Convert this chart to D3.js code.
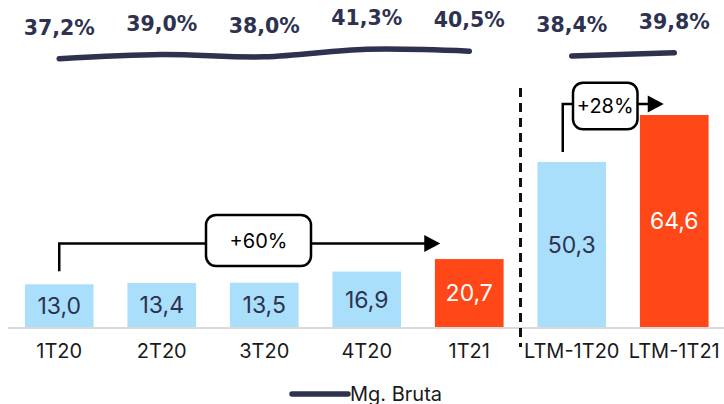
<!DOCTYPE html>
<html>
<head>
    <meta charset="utf-8" />
    <title>Lucro Bruto</title>
    <script src="https://cdn.jsdelivr.net/npm/d3@7/dist/d3.min.js"></script>
    <style>
        body { margin: 0; background: #fff; }
        svg { display: block; }
    </style>
</head>
<body>
    <div id="chart"></div>
    <script>
        var categories = ["1T20", "2T20", "3T20", "4T20", "1T21", "LTM-1T20", "LTM-1T21"];
        var values = [13.0, 13.4, 13.5, 16.9, 20.7, 50.3, 64.6];
        var margins = [37.2, 39.0, 38.0, 41.3, 40.5, 38.4, 39.8];
        var highlight = [false, false, false, false, true, false, true];
        var marginGroups = [[0, 1, 2, 3, 4], [5, 6]];
        var legendLabel = "Mg. Bruta";

        var width = 724, height = 404;
        var blue = "#aadffb", orange = "#ff4717", navy = "#2e3250";

        var svg = d3.select("#chart").append("svg")
            .attr("width", width)
            .attr("height", height);

        var x = d3.scaleBand()
            .domain(categories)
            .range([8, 725.5])
            .paddingInner(0.33)
            .paddingOuter(0.165);
        var bw = x.bandwidth();
        function cx(c) { return x(c) + bw / 2; }

        var y = d3.scaleLinear().domain([0, 64.6]).range([327, 115]);
        var yM = d3.scaleLinear().domain([37.2, 41.3]).range([58.7, 49.3]);

        var fmt = function (v) { return d3.format(".1f")(v).replace(".", ","); };

        // bars
        svg.selectAll("rect.bar")
            .data(categories)
            .enter().append("rect")
            .attr("class", "bar")
            .attr("x", function (d) { return x(d); })
            .attr("y", function (d, i) { return y(values[i]); })
            .attr("width", bw)
            .attr("height", function (d, i) { return y(0) - y(values[i]); })
            .attr("fill", function (d, i) { return highlight[i] ? orange : blue; });

        svg.selectAll("text.val")
            .data(categories)
            .enter().append("text")
            .attr("class", "val")
            .attr("x", cx)
            .attr("y", function (d, i) { return (y(values[i]) + y(0)) / 2; })
            .attr("dy", "0.36em")
            .attr("text-anchor", "middle")
            .style("font-family", "Inter, sans-serif")
            .style("font-size", "23px")
            .attr("fill", function (d, i) { return highlight[i] ? "#fff" : navy; })
            .text(function (d, i) { return fmt(values[i]); });

        // baseline
        svg.append("line")
            .attr("x1", 8).attr("x2", width)
            .attr("y1", y(0) + 1).attr("y2", y(0) + 1)
            .attr("stroke", "#d9d9d9")
            .attr("stroke-width", 2);

        // category axis
        var xAxis = svg.append("g")
            .attr("transform", "translate(0," + y(0) + ")")
            .call(d3.axisBottom(x).tickSize(0).tickPadding(17));
        xAxis.select(".domain").remove();
        xAxis.selectAll("text")
            .style("font-family", "Inter, sans-serif")
            .style("font-size", "20px")
            .attr("fill", "#1a1a1a");

        // dashed separator
        var sepX = (x("1T21") + bw + x("LTM-1T20")) / 2;
        svg.append("line")
            .attr("x1", sepX).attr("x2", sepX)
            .attr("y1", 88).attr("y2", 347)
            .attr("stroke", "#111")
            .attr("stroke-width", 3)
            .attr("stroke-dasharray", "9,6");

        // margin lines
        var line = d3.line()
            .x(function (i) { return cx(categories[i]); })
            .y(function (i) { return yM(margins[i]); })
            .curve(d3.curveCatmullRom.alpha(0.5));

        svg.selectAll("path.mg")
            .data(marginGroups)
            .enter().append("path")
            .attr("class", "mg")
            .attr("d", line)
            .attr("fill", "none")
            .attr("stroke", navy)
            .attr("stroke-width", 5.5)
            .attr("stroke-linecap", "round");

        svg.selectAll("text.mg")
            .data(categories)
            .enter().append("text")
            .attr("class", "mg")
            .attr("x", cx)
            .attr("y", function (d, i) { return yM(margins[i]) - 24; })
            .attr("text-anchor", "middle")
            .style("font-family", "'DejaVu Sans', sans-serif")
            .style("font-weight", "bold")
            .style("font-size", "20.5px")
            .attr("fill", navy)
            .text(function (d, i) { return fmt(margins[i]) + "%"; });

        // growth annotations
        function annotate(from, to, label, o) {
            var g = svg.append("g");
            var x0 = cx(from) + o.dx0;
            var y0 = y(values[categories.indexOf(from)]) - o.gap;
            var tip = cx(to) + o.dxTip;
            g.append("path")
                .attr("d", "M" + x0 + "," + y0 + "V" + o.ly + "H" + (tip - 15))
                .attr("fill", "none")
                .attr("stroke", "#000")
                .attr("stroke-width", 2.5);
            g.append("path")
                .attr("d", "M" + (tip - 16) + "," + (o.ly - 8.5) + "L" + tip + "," + o.ly + "L" + (tip - 16) + "," + (o.ly + 8.5) + "Z")
                .attr("fill", "#000");
            g.append("rect")
                .attr("x", o.bx).attr("y", o.ly - o.bh / 2 - o.bdy)
                .attr("width", o.bw).attr("height", o.bh)
                .attr("rx", 10)
                .attr("fill", "#fff")
                .attr("stroke", "#000")
                .attr("stroke-width", 2.5);
            g.append("text")
                .attr("x", o.bx + o.bw / 2)
                .attr("y", o.ly - o.bdy)
                .attr("dy", "0.36em")
                .attr("text-anchor", "middle")
                .style("font-family", "Inter, sans-serif")
                .style("font-size", "20px")
                .attr("fill", "#000")
                .text(label);
        }

        annotate("1T20", "1T21", "+60%", { dx0: 0, gap: 13, dxTip: -29, ly: 243.5, bx: 206, bw: 105, bh: 51, bdy: 3 });
        annotate("LTM-1T20", "LTM-1T21", "+28%", { dx0: -9, gap: 10, dxTip: -10.5, ly: 104, bx: 573, bw: 64.5, bh: 46.5, bdy: -2 });

        // legend
        var legend = svg.append("g").attr("transform", "translate(292,394)");
        legend.append("line")
            .attr("x1", 0).attr("x2", 56)
            .attr("stroke", navy)
            .attr("stroke-width", 5.5)
            .attr("stroke-linecap", "round");
        legend.append("text")
            .attr("x", 58)
            .attr("y", 6.5)
            .style("font-family", "Inter, sans-serif")
            .style("font-size", "20px")
            .attr("fill", "#1a1a1a")
            .text(legendLabel);
    </script>
</body>
</html>
